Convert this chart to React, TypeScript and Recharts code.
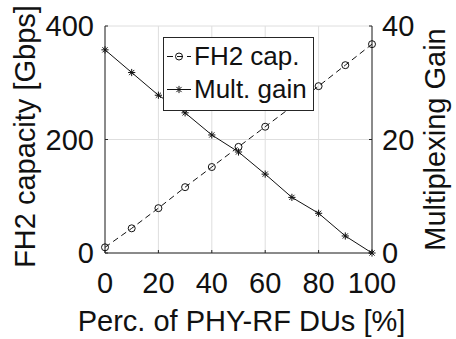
import React from 'react';
import { ComposedChart, Line, XAxis, YAxis, CartesianGrid, Legend } from 'recharts';

// values
const percPhyRf = [0, 10, 20, 30, 40, 50, 60, 70, 80, 90, 100];
const fh2Capacity = [10, 43.5, 79, 116, 151.5, 187, 222.5, 258, 294, 331, 368];
const multGain = [35.8, 31.8, 27.8, 24.7, 20.8, 17.8, 13.9, 9.8, 7.0, 3.0, 0];

const xTicks = [0, 20, 40, 60, 80, 100];
const leftTicks = [0, 200, 400];
const rightTicks = [0, 20, 40];

const seriesNames = ['FH2 cap.', 'Mult. gain'];
const xTitle = 'Perc. of PHY-RF DUs [%]';
const leftTitle = 'FH2 capacity [Gbps]';
const rightTitle = 'Multiplexing Gain';

const data = percPhyRf.map((p, i) => ({ p, cap: fh2Capacity[i], gain: multGain[i] }));

const FONT = '"Liberation Sans", Arial, Helvetica, sans-serif';
const INK = '#111';
const AXIS = '#262626';

const CircleDot = (props: any) => {
  const { cx, cy, index } = props;
  if (cx == null || cy == null) return null;
  return <circle key={`c-${index}`} cx={cx} cy={cy} r={3.5} fill="none" stroke={INK} strokeWidth={1} />;
};

const AsteriskDot = (props: any) => {
  const { cx, cy, index } = props;
  if (cx == null || cy == null) return null;
  const r = 3.6;
  const d = r * 0.72;
  return (
    <g key={`a-${index}`} stroke={INK} strokeWidth={1}>
      <line x1={cx - r} y1={cy} x2={cx + r} y2={cy} />
      <line x1={cx} y1={cy - r} x2={cx} y2={cy + r} />
      <line x1={cx - d} y1={cy - d} x2={cx + d} y2={cy + d} />
      <line x1={cx - d} y1={cy + d} x2={cx + d} y2={cy - d} />
    </g>
  );
};

const titleStyle = { fill: INK, fontSize: 29, fontFamily: FONT };

const leftLabel = (props: any) => {
  const vb = props.viewBox || { x: 0, y: 26, width: 105, height: 227 };
  const cx = vb.x + 35;
  const cy = vb.y + vb.height / 2 - 3;
  return (
    <text x={cx} y={cy} transform={`rotate(-90 ${cx} ${cy})`} textAnchor="middle" {...titleStyle}>
      {leftTitle}
    </text>
  );
};

const rightLabel = (props: any) => {
  const vb = props.viewBox || { x: 372, y: 26, width: 84, height: 227 };
  const cx = vb.x + 73;
  const cy = vb.y + vb.height / 2;
  return (
    <text x={cx} y={cy} transform={`rotate(-90 ${cx} ${cy})`} textAnchor="middle" {...titleStyle}>
      {rightTitle}
    </text>
  );
};

const bottomLabel = (props: any) => {
  const vb = props.viewBox || { x: 105, y: 253, width: 267, height: 86 };
  return (
    <text x={vb.x + vb.width / 2 + 3} y={vb.y + 78} textAnchor="middle" {...titleStyle}>
      {xTitle}
    </text>
  );
};

const LegendBox = () => (
  <div
    style={{
      boxSizing: 'border-box',
      width: 151,
      height: 74,
      border: `1px solid ${AXIS}`,
      background: '#fff',
      padding: '2px 4px 3px 3px',
      fontFamily: FONT,
      fontSize: 26,
      lineHeight: '33px',
      color: INK,
      whiteSpace: 'nowrap',
    }}
  >
    {seriesNames.map((name, i) => (
      <div key={name} style={{ display: 'flex', alignItems: 'center', height: 33 }}>
        <svg width={24} height={33} style={{ flex: 'none' }}>
          <line x1={0} y1={16.5} x2={24} y2={16.5} stroke={INK} strokeWidth={1} strokeDasharray={i === 0 ? '6 4' : undefined} />
          {i === 0 ? <CircleDot cx={12} cy={16.5} index={0} /> : <AsteriskDot cx={12} cy={16.5} index={0} />}
        </svg>
        <span style={{ marginLeft: 3 }}>{name}</span>
      </div>
    ))}
  </div>
);

const tickStyle = { fill: INK, fontSize: 29, fontFamily: FONT };

export default function App() {
  return (
    <div style={{ position: 'absolute', left: 0, top: 0, width: 456, height: 339, background: '#fff' }}>
      <ComposedChart width={456} height={339} data={data} margin={{ top: 26, right: 0, bottom: 0, left: 0 }}>
        <CartesianGrid yAxisId="left" stroke="#dedede" strokeWidth={1} />
        <XAxis
          dataKey="p"
          type="number"
          domain={[0, 100]}
          ticks={xTicks}
          height={86}
          stroke={AXIS}
          tickSize={-3}
          tickMargin={22}
          tick={tickStyle}
          label={bottomLabel}
        />
        <XAxis xAxisId="top" orientation="top" dataKey="p" type="number" domain={[0, 100]} height={0} stroke={AXIS} tick={false} tickLine={false} />
        <YAxis
          yAxisId="left"
          domain={[0, 400]}
          ticks={leftTicks}
          width={105}
          stroke={AXIS}
          tickSize={-3}
          tickMargin={14}
          tick={tickStyle}
          label={leftLabel}
        />
        <YAxis
          yAxisId="right"
          orientation="right"
          domain={[0, 40]}
          ticks={rightTicks}
          width={84}
          stroke={AXIS}
          tickSize={-3}
          tickMargin={13}
          tick={tickStyle}
          label={rightLabel}
        />
        <Line
          yAxisId="left"
          dataKey="cap"
          name={seriesNames[0]}
          stroke={INK}
          strokeWidth={1}
          strokeDasharray="6 4"
          dot={CircleDot}
          activeDot={false}
          isAnimationActive={false}
        />
        <Line
          yAxisId="right"
          dataKey="gain"
          name={seriesNames[1]}
          stroke={INK}
          strokeWidth={1}
          dot={AsteriskDot}
          activeDot={false}
          isAnimationActive={false}
        />
        <Legend
          layout="vertical"
          align="center"
          verticalAlign="middle"
          content={<LegendBox />}
          wrapperStyle={{ left: 163, top: 37, width: 151, height: 74, margin: 0 }}
        />
      </ComposedChart>
    </div>
  );
}
